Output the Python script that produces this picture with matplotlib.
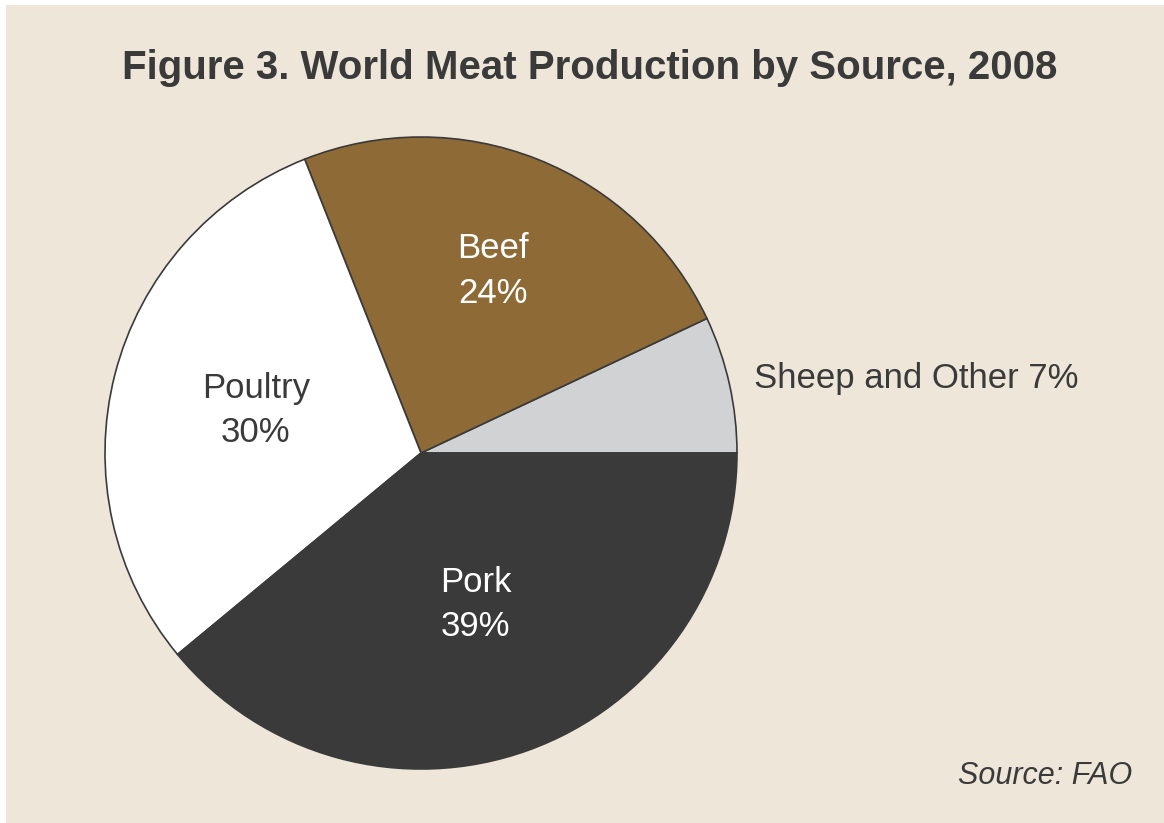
#!/usr/bin/env python3
"""
World meat production by source, 2008 - pie chart
"""

import numpy as np
import matplotlib
matplotlib.use('Agg')
import matplotlib.pyplot as plt
from matplotlib.patches import Rectangle

plt.rcParams['font.family'] = ['Liberation Sans', 'DejaVu Sans']

# Data
sources = ['Sheep and Other', 'Beef', 'Poultry', 'Pork']
shares = [7, 24, 30, 39]
colors = ['#D1D2D4', '#8E6A37', '#FFFFFF', '#3A3A3A']
label_colors = ['#3A3A3A', '#FFFFFF', '#3A3A3A', '#FFFFFF']
label_radius = [1.08, 0.62, 0.54, 0.51]

bg = '#EFE6DA'
dark = '#3A3A3A'


def main():
    fig = plt.figure(figsize=(11.64, 8.23), dpi=100, facecolor='white')

    # beige panel (small white margin on top/left)
    fig.patches.append(Rectangle((6 / 1164, 0), 1, 1 - 5 / 823,
                                 transform=fig.transFigure, facecolor=bg,
                                 edgecolor='none', zorder=-10))

    fig.text(590 / 1164, 1 - 68 / 823,
             'Figure 3. World Meat Production by Source, 2008',
             ha='center', va='center', fontsize=29, fontweight='bold',
             color=dark)

    ax = fig.add_axes([105 / 1164, 54 / 823, 632 / 1164, 632 / 823], zorder=5)
    ax.set_facecolor('none')
    wedges, _ = ax.pie(shares, colors=colors, startangle=0, counterclock=True,
                       wedgeprops=dict(edgecolor=dark, linewidth=1.2))
    ax.set_xlim(-1, 1)
    ax.set_ylim(-1, 1)
    ax.set_aspect('equal')
    ax.axis('off')

    for w, name, val, r, c in zip(wedges, sources, shares, label_radius, label_colors):
        ang = np.deg2rad((w.theta1 + w.theta2) / 2)
        x, y = r * np.cos(ang), r * np.sin(ang)
        if name == 'Sheep and Other':
            ax.text(x, y, f'{name} {val}%', ha='left', va='center',
                    fontsize=25, color=c, clip_on=False)
        else:
            ax.text(x, y, f'{name}\n{val}%', ha='center', va='center',
                    fontsize=25, color=c, linespacing=1.45)

    fig.text(1132 / 1164, 1 - 776 / 823, 'Source: FAO', ha='right',
             va='center', fontsize=22, style='italic', color=dark)

    fig.savefig('out.png', dpi=100, facecolor='white')


if __name__ == '__main__':
    main()
